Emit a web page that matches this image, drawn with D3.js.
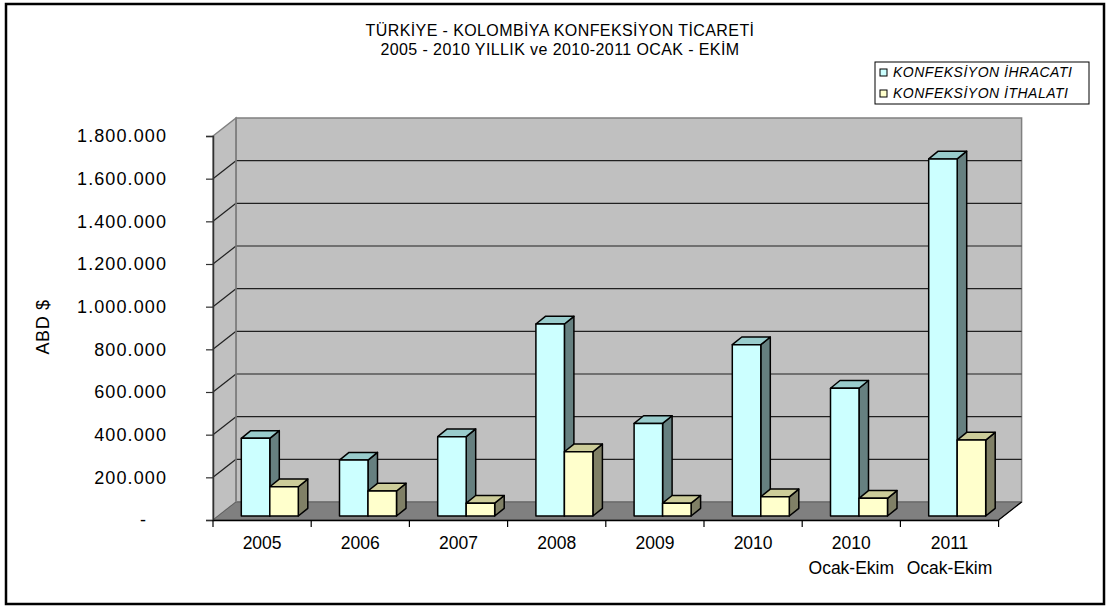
<!DOCTYPE html>
<html>
<head>
<meta charset="utf-8">
<script src="https://cdn.jsdelivr.net/npm/d3@7"></script>
<style>
  body { margin: 0; background: #fff; }
  text { font-family: "Liberation Sans", Arial, sans-serif; fill: #000; }
</style>
</head>
<body>
<script>
// chart data
var categories = ["2005", "2006", "2007", "2008", "2009", "2010", "2010\nOcak-Ekim", "2011\nOcak-Ekim"];
var seriesNames = ["KONFEKSİYON İHRACATI", "KONFEKSİYON İTHALATI"];
var ihracat = [364000, 262000, 372000, 900000, 434000, 803000, 599000, 1674000];
var ithalat = [137000, 117000, 60000, 301000, 60000, 90000, 83000, 356000];
var yTicks = [0, 200000, 400000, 600000, 800000, 1000000, 1200000, 1400000, 1600000, 1800000];
var titleLines = ["TÜRKİYE - KOLOMBİYA KONFEKSİYON TİCARETİ", "2005 - 2010 YILLIK ve 2010-2011 OCAK - EKİM"];
var yTitle = "ABD $";

var width = 1113, height = 612;

var svg = d3.select("body").append("svg")
    .attr("width", width)
    .attr("height", height);

// outer frame
svg.append("rect")
    .attr("x", 6).attr("y", 4)
    .attr("width", 1098).attr("height", 600)
    .attr("fill", "#fff")
    .attr("stroke", "#000")
    .attr("stroke-width", 2.5);

// scales (front plane)
var x0 = d3.scaleBand().domain(categories).range([213, 998.6]).paddingInner(0).paddingOuter(0);
var y = d3.scaleLinear().domain([0, 1800000]).range([520, 136]);

// depth of the walls
var wdx = 23, wdy = -18;

var left = 213, right = 998.6;
var yTop = y(1800000), yBot = y(0);

// back wall
svg.append("polygon")
    .attr("points", [[left + wdx, yTop + wdy], [right + wdx, yTop + wdy], [right + wdx, yBot + wdy], [left + wdx, yBot + wdy]].join(" "))
    .attr("fill", "#c0c0c0")
    .attr("stroke", "#808080")
    .attr("stroke-width", 1.5);

// side wall
svg.append("polygon")
    .attr("points", [[left, yTop], [left + wdx, yTop + wdy], [left + wdx, yBot + wdy], [left, yBot]].join(" "))
    .attr("fill", "#c0c0c0")
    .attr("stroke", "#808080")
    .attr("stroke-width", 1.5);

// floor
svg.append("polygon")
    .attr("points", [[left, yBot], [right, yBot], [right + wdx, yBot + wdy], [left + wdx, yBot + wdy]].join(" "))
    .attr("fill", "#808080")
    .attr("stroke", "#606060")
    .attr("stroke-width", 1);

// gridlines
var grid = yTicks.filter(function(d) { return d > 0 && d < 1800000; });
svg.selectAll(".grid").data(grid).enter().append("line")
    .attr("x1", left + wdx).attr("x2", right + wdx)
    .attr("y1", function(d) { return y(d) + wdy; })
    .attr("y2", function(d) { return y(d) + wdy; })
    .attr("stroke", "#202020").attr("stroke-width", 1.2);
svg.selectAll(".gridside").data(grid).enter().append("line")
    .attr("x1", left).attr("x2", left + wdx)
    .attr("y1", function(d) { return y(d); })
    .attr("y2", function(d) { return y(d) + wdy; })
    .attr("stroke", "#202020").attr("stroke-width", 1.2);
// re-stroke wall edges above gridlines
svg.append("line")
    .attr("x1", left + wdx).attr("x2", left + wdx)
    .attr("y1", yTop + wdy).attr("y2", yBot + wdy)
    .attr("stroke", "#808080").attr("stroke-width", 1.5);

// bars
var barDx = 9.5, barDy = -7.7;   // bar depth
var offDx = 5.1, offDy = -4;     // bar front sits a bit inside the floor
var groupOffset = 23.2;
var x1 = d3.scaleBand().domain([0, 1]).range([0, 57]);

var palette = [
    { front: "#ccffff", top: "#99cccc", side: "#668080" },
    { front: "#ffffcc", top: "#cccc99", side: "#808066" }
];

var bars = [];
categories.forEach(function(c, i) {
    [ihracat[i], ithalat[i]].forEach(function(v, s) {
        bars.push({ cat: c, s: s, value: v });
    });
});

var barG = svg.append("g");
bars.forEach(function(d) {
    var bx = x0(d.cat) + groupOffset + offDx + x1(d.s);
    var bw = x1.bandwidth();
    var by0 = y(0) + offDy;
    var by1 = y(d.value) + offDy;
    var col = palette[d.s];
    var g = barG.append("g")
        .attr("stroke", "#000")
        .attr("stroke-width", 1.5)
        .attr("stroke-linejoin", "round");
    g.append("polygon")
        .attr("points", [[bx + bw, by1], [bx + bw + barDx, by1 + barDy], [bx + bw + barDx, by0 + barDy], [bx + bw, by0]].join(" "))
        .attr("fill", col.side);
    g.append("polygon")
        .attr("points", [[bx, by1], [bx + barDx, by1 + barDy], [bx + bw + barDx, by1 + barDy], [bx + bw, by1]].join(" "))
        .attr("fill", col.top);
    g.append("rect")
        .attr("x", bx).attr("y", by1)
        .attr("width", bw).attr("height", by0 - by1)
        .attr("fill", col.front);
});

// axes
var yAxis = svg.append("g")
    .attr("transform", "translate(" + left + ",0)")
    .call(d3.axisLeft(y).tickValues(yTicks).tickSize(7).tickPadding(40)
        .tickFormat(function(d) { return d === 0 ? "-" : d3.format(",")(d).replace(/,/g, "."); }));
yAxis.select(".domain").attr("stroke", "#303030").attr("stroke-width", 1.5);
yAxis.selectAll(".tick line").attr("stroke", "#303030").attr("stroke-width", 1.2);
yAxis.selectAll(".tick text")
    .attr("font-size", 18)
    .attr("font-family", "Liberation Sans, Arial, sans-serif")
    .attr("letter-spacing", 1.1)
    .attr("fill", "#111")
    .attr("x", function(d) { return d === 0 ? -66 : -46; });

var xAxis = svg.append("g")
    .attr("transform", "translate(0," + yBot + ")")
    .call(d3.axisBottom(x0).tickSize(0).tickFormat(""));
xAxis.select(".domain").attr("stroke", "#000").attr("stroke-width", 1.5);
// category tick marks at band edges
svg.selectAll(".ctick").data(categories.concat([null])).enter().append("line")
    .attr("x1", function(d, i) { return left + i * x0.step(); })
    .attr("x2", function(d, i) { return left + i * x0.step(); })
    .attr("y1", yBot).attr("y2", yBot + 7)
    .attr("stroke", "#000").attr("stroke-width", 1.2);
// floor right edge
svg.append("line")
    .attr("x1", right).attr("y1", yBot)
    .attr("x2", right + wdx).attr("y2", yBot + wdy)
    .attr("stroke", "#000").attr("stroke-width", 1.2);

// category labels
var catLab = svg.selectAll(".clab").data(categories).enter().append("text")
    .attr("text-anchor", "middle")
    .attr("font-size", 17.5)
    .attr("fill", "#111")
    .attr("transform", function(d) { return "translate(" + (x0(d) + x0.bandwidth() / 2) + ",549)"; });
catLab.each(function(d) {
    var parts = d.split("\n");
    var t = d3.select(this);
    parts.forEach(function(p, i) {
        t.append("tspan").attr("x", 0).attr("y", i * 25).text(p);
    });
});

// axis title
svg.append("text")
    .attr("transform", "translate(49,327) rotate(-90)")
    .attr("text-anchor", "middle")
    .attr("font-size", 18)
    .attr("letter-spacing", 0.6)
    .attr("fill", "#111")
    .text(yTitle);

// chart title
svg.selectAll(".title").data(titleLines).enter().append("text")
    .attr("x", 560)
    .attr("y", function(d, i) { return 36 + i * 19; })
    .attr("text-anchor", "middle")
    .attr("font-size", 16)
    .attr("letter-spacing", 0.4)
    .attr("fill", "#111")
    .text(function(d) { return d; });

// legend
var legend = svg.append("g").attr("transform", "translate(875,62)");
legend.append("rect")
    .attr("width", 214).attr("height", 42)
    .attr("fill", "#fff").attr("stroke", "#000").attr("stroke-width", 1);
var li = legend.selectAll(".li").data(seriesNames).enter().append("g")
    .attr("transform", function(d, i) { return "translate(5," + (7 + i * 21) + ")"; });
li.append("rect")
    .attr("width", 7).attr("height", 7)
    .attr("fill", function(d, i) { return palette[i].front; })
    .attr("stroke", "#000").attr("stroke-width", 1);
li.append("text")
    .attr("x", 13).attr("y", 8)
    .attr("font-size", 14)
    .attr("font-style", "italic")
    .attr("letter-spacing", 0.5)
    .attr("fill", "#111")
    .text(function(d) { return d; });
</script>
</body>
</html>
